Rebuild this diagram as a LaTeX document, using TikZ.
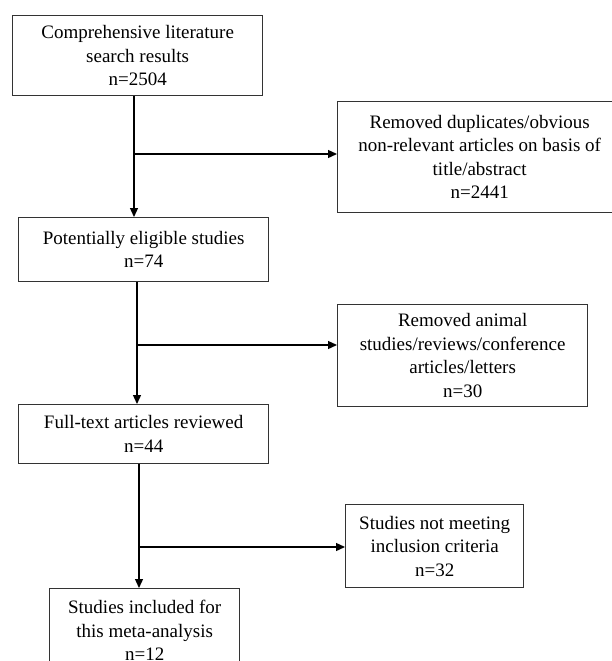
\documentclass[tikz,border=0pt]{standalone}
\usepackage{fontspec}
\setmainfont{Liberation Serif}
\usetikzlibrary{arrows.meta}
\begin{document}
\begin{tikzpicture}[x=1pt,y=-1pt,
  box/.style={draw=black!80, line width=1.3pt, anchor=north west, inner sep=0pt,
    align=center, font=\fontsize{19}{23.5}\selectfont},
  arr/.style={line width=1.3pt, -{Triangle[length=9pt,width=8pt]}}]
\useasboundingbox (0,0) rectangle (611,661);
\fill[white] (0,0) rectangle (611,661);
\node[box, minimum width=250pt, minimum height=80pt] (b1) at (12,15)
  {Comprehensive literature\\search results\\n=2504};
\node[box, minimum width=284pt, minimum height=111pt] (r1) at (337,101)
  {Removed duplicates/obvious\\non-relevant articles on basis of\\title/abstract\\n=2441};
\node[box, minimum width=250pt, minimum height=64pt] (b2) at (18,217)
  {Potentially eligible studies\\n=74};
\node[box, minimum width=250pt, minimum height=102pt] (r2) at (337,304)
  {Removed animal\\studies/reviews/conference\\articles/letters\\n=30};
\node[box, minimum width=250pt, minimum height=59pt] (b3) at (18,404)
  {Full-text articles reviewed\\n=44};
\node[box, minimum width=178pt, minimum height=83pt] (r3) at (345,504)
  {Studies not meeting\\inclusion criteria\\n=32};
\node[box, minimum width=190pt, minimum height=84pt] (b4) at (49,588)
  {Studies included for\\this meta-analysis\\n=12};
\coordinate (c1) at (134,154);
\coordinate (c2) at (137,345);
\coordinate (c3) at (139,547);
\draw[arr] (c1 |- b1.south) -- (c1 |- b2.north);
\draw[arr] (c1) -- (c1 -| r1.west);
\draw[arr] (c2 |- b2.south) -- (c2 |- b3.north);
\draw[arr] (c2) -- (c2 -| r2.west);
\draw[arr] (c3 |- b3.south) -- (c3 |- b4.north);
\draw[arr] (c3) -- (c3 -| r3.west);
\end{tikzpicture}
\end{document}
